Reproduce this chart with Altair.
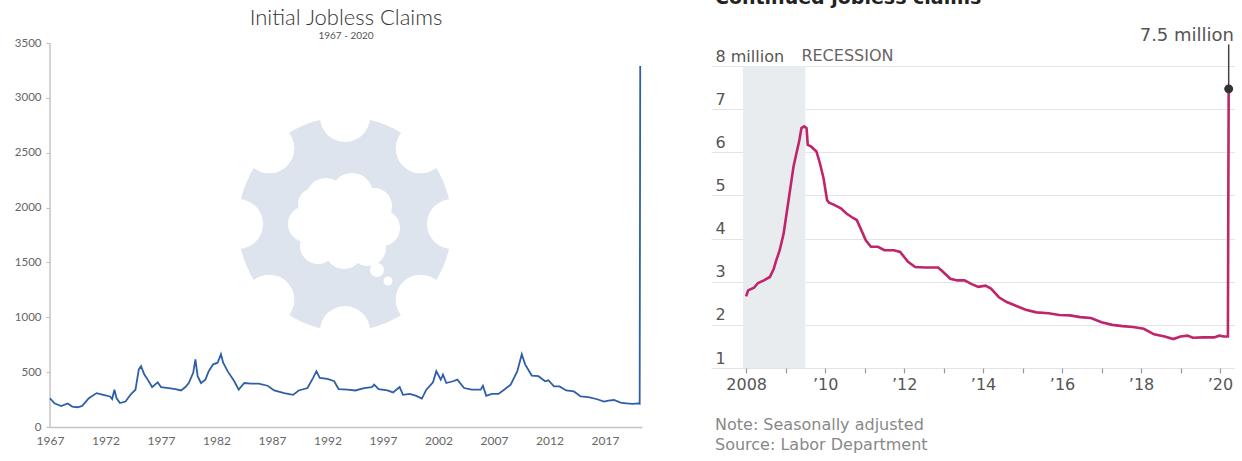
import math
import altair as alt
import pandas as pd

# ---- Initial jobless claims, thousands (1967 - 2020) ----
ic_year = [1967.0, 1967.4, 1968.0, 1968.6, 1969.0, 1969.5, 1969.9, 1970.5, 1971.2, 1971.8,
           1972.4, 1972.6, 1972.8, 1973.0, 1973.3, 1973.8, 1974.3, 1974.7, 1975.0, 1975.2,
           1975.5, 1975.8, 1976.2, 1976.7, 1977.0, 1977.7, 1978.3, 1978.8, 1979.2, 1979.5,
           1979.9, 1980.1, 1980.3, 1980.6, 1981.0, 1981.3, 1981.7, 1982.1, 1982.4, 1982.6,
           1983.0, 1983.6, 1984.0, 1984.5, 1985.1, 1985.8, 1986.6, 1987.2, 1988.1, 1988.9,
           1989.4, 1990.2, 1990.7, 1991.0, 1991.3, 1992.0, 1992.6, 1993.0, 1993.8, 1994.5,
           1995.3, 1996.0, 1996.2, 1996.6, 1997.4, 1997.9, 1998.5, 1998.8, 1999.4, 2000.0,
           2000.5, 2000.9, 2001.5, 2001.8, 2002.2, 2002.4, 2002.7, 2003.3, 2003.7, 2004.3,
           2005.0, 2005.8, 2006.0, 2006.3, 2006.8, 2007.4, 2008.0, 2008.5, 2009.1, 2009.5,
           2009.8, 2010.4, 2011.0, 2011.6, 2011.9, 2012.4, 2012.9, 2013.5, 2014.2, 2014.8,
           2015.5, 2016.3, 2016.9, 2017.3, 2017.8, 2018.4, 2018.9, 2019.5, 2020.0, 2020.12,
           2020.17]
ic_claims = [262, 216, 191, 214, 186, 180, 192, 262, 309, 293,
             278, 255, 340, 262, 218, 232, 300, 340, 525, 555,
             478, 432, 364, 407, 364, 355, 346, 333, 364, 401,
             494, 617, 463, 401, 432, 509, 571, 586, 664, 586,
             509, 417, 340, 401, 395, 395, 376, 333, 309, 293,
             333, 355, 448, 509, 448, 438, 417, 346, 340, 333,
             355, 364, 386, 346, 333, 315, 364, 293, 302, 284,
             259, 340, 407, 509, 432, 478, 401, 417, 432, 355,
             340, 340, 376, 284, 302, 302, 346, 386, 509, 664,
             571, 469, 463, 417, 426, 370, 370, 333, 324, 278,
             272, 253, 232, 241, 246, 222, 216, 210, 215, 212,
             3290]

# ---- Continued jobless claims, millions (2008 - 2020) ----
cc_year = [2008.0, 2008.05, 2008.2, 2008.3, 2008.45, 2008.6, 2008.7, 2008.75, 2008.85, 2008.95,
           2009.0, 2009.1, 2009.2, 2009.35, 2009.4, 2009.47, 2009.53, 2009.56, 2009.65, 2009.78,
           2009.87, 2009.96, 2010.05, 2010.1, 2010.23, 2010.4, 2010.54, 2010.67, 2010.8, 2010.9,
           2011.03, 2011.16, 2011.34, 2011.5, 2011.74, 2011.9, 2012.1, 2012.28, 2012.54, 2012.86,
           2012.95, 2013.17, 2013.35, 2013.53, 2013.7, 2013.88, 2014.06, 2014.2, 2014.4, 2014.6,
           2014.86, 2015.08, 2015.35, 2015.66, 2015.93, 2016.2, 2016.46, 2016.73, 2017.0, 2017.27,
           2017.53, 2017.8, 2018.07, 2018.33, 2018.6, 2018.82, 2019.0, 2019.18, 2019.31, 2019.58,
           2019.85, 2019.98, 2020.1, 2020.2, 2020.22]
cc_claims = [2.66, 2.80, 2.86, 2.97, 3.03, 3.11, 3.30, 3.46, 3.73, 4.12,
             4.43, 5.05, 5.67, 6.29, 6.56, 6.60, 6.56, 6.17, 6.13, 6.02,
             5.74, 5.40, 4.89, 4.83, 4.78, 4.70, 4.58, 4.50, 4.43, 4.23,
             3.96, 3.81, 3.81, 3.73, 3.73, 3.69, 3.46, 3.34, 3.33, 3.33,
             3.26, 3.07, 3.03, 3.03, 2.95, 2.88, 2.91, 2.84, 2.64, 2.53,
             2.43, 2.35, 2.29, 2.27, 2.23, 2.22, 2.18, 2.16, 2.06, 2.00,
             1.97, 1.95, 1.91, 1.78, 1.73, 1.67, 1.73, 1.75, 1.70, 1.71,
             1.71, 1.75, 1.73, 1.73, 7.47]

recession_start, recession_end = 2007.92, 2009.5

ic_xticks = list(range(1967, 2018, 5))
ic_yticks = list(range(0, 3501, 500))
cc_xticks = list(range(2008, 2021))
cc_yticks = list(range(1, 9))

LW, LH = 592, 427      # left plot area
RW, RH = 524, 368      # right plot area

LFONT = "Lato"
RFONT = "DejaVu Sans"

one = pd.DataFrame({"k": [0]})
ic = pd.DataFrame({"year": ic_year, "claims": ic_claims})
cc = pd.DataFrame({"year": cc_year, "claims": cc_claims})
peak = cc.tail(1).copy()
peak["label"] = peak["claims"].map(lambda v: f"{v:.1f} million")

# ------------------------------------------------------------------ left panel
x_ic = alt.X(
    "year:Q",
    scale=alt.Scale(domain=[1967, 2020.33], nice=False, zero=False),
    axis=alt.Axis(values=ic_xticks, format="d", title=None, grid=False,
                  domainColor="#c4c4c4", domainWidth=1.5, tickSize=0,
                  labelPadding=8, labelFont=LFONT, labelFontSize=12,
                  labelColor="#666666", labelFlush=False),
)
y_ic = alt.Y(
    "claims:Q",
    scale=alt.Scale(domain=[0, 3892], nice=False, zero=True),
    axis=alt.Axis(values=ic_yticks, format="d", title=None, grid=False, domain=False,
                  tickSize=4, tickColor="#bdbdbd", labelPadding=5,
                  labelFont=LFONT, labelFontSize=11.5, labelColor="#666666"),
)

# faint gear-and-cloud logo behind the series (symbol size = diameter squared)
GEAR = "#dde4ee"
gx, gy, gr = 295, 224, 107
logo = [(gx, gy, gr, GEAR)]
for k in range(8):
    a = math.radians(45 * k)
    logo.append((gx + gr * math.sin(a), gy - gr * math.cos(a), 25, "white"))
cloud = [(0, 0, 34), (-18, -22, 20), (8, -26, 21), (30, -14, 18), (38, 8, 18),
         (24, 28, 18), (0, 30, 19), (-26, 26, 18), (-38, 4, 18), (-30, -16, 16),
         (33, 50, 7), (44, 61, 4.5)]
for dx, dy, r in cloud:
    logo.append((gx - 1 + dx, gy - 4 + dy, r, "white"))

logo_layers = [
    alt.Chart(one).mark_circle(size=(2 * r) ** 2, color=c, opacity=1)
    .encode(x=alt.value(px), y=alt.value(py))
    for px, py, r, c in logo
]

y_axis_line = alt.Chart(one).mark_rule(color="#c4c4c4", strokeWidth=1.5).encode(
    x=alt.value(0), y=alt.datum(0), y2=alt.datum(3500))

ic_line = alt.Chart(ic).mark_line(color="#2f5fa8", strokeWidth=1.8).encode(x_ic, y_ic)

ic_title = alt.Chart(one).mark_text(
    text="Initial Jobless Claims", font=LFONT, fontSize=22, fontWeight=300,
    color="#333333", align="center", baseline="alphabetic",
).encode(x=alt.value(LW / 2), y=alt.value(25))
ic_sub = alt.Chart(one).mark_text(
    text="1967 - 2020", font=LFONT, fontSize=10, color="#555555",
    align="center", baseline="alphabetic",
).encode(x=alt.value(LW / 2), y=alt.value(39))

left = alt.layer(*logo_layers, y_axis_line, ic_line, ic_title, ic_sub).properties(
    width=LW, height=LH)

# ------------------------------------------------------------------ right panel
x_cc = alt.X(
    "year:Q",
    scale=alt.Scale(domain=[2007.11, 2020.38], nice=False, zero=False),
    axis=alt.Axis(values=cc_xticks, format="d", title=None, grid=False, domain=False,
                  tickSize=5, tickColor="#9a9a9a", tickWidth=1.2, labelPadding=3,
                  labelFont=RFONT, labelFontSize=16, labelColor="#555555",
                  labelFlush=False,
                  labelExpr="datum.value == 2008 ? '2008' : (datum.value % 2 == 1 ? '' : '\u2019' + slice(datum.label, 2))"),
)
y_cc = alt.Y(
    "claims:Q",
    scale=alt.Scale(domain=[1, 9.53], nice=False, zero=False),
    axis=alt.Axis(values=cc_yticks, title=None, domain=False, ticks=False, tickSize=0,
                  grid=True, gridColor="#e4e4e4", gridWidth=1,
                  labelAlign="left", labelBaseline="alphabetic", labelPadding=-4,
                  labelOffset=-5, labelFont=RFONT, labelFontSize=16,
                  labelColor="#555555",
                  labelExpr="datum.value == 8 ? '8 million' : datum.label"),
)

rec = pd.DataFrame({"start": [recession_start], "end": [recession_end]})
rec_band = alt.Chart(rec).mark_rect(color="#e9ecef").encode(
    x=alt.X("start:Q"), x2="end:Q", y=alt.datum(1), y2=alt.datum(8))
rec_label = alt.Chart(rec).mark_text(
    text="RECESSION", font=RFONT, fontSize=16, color="#666666",
    align="left", baseline="alphabetic", dx=-4, dy=-5,
).encode(x="end:Q", y=alt.datum(8))

cc_line = alt.Chart(cc).mark_line(color="#c0246b", strokeWidth=2.6).encode(x_cc, y_cc)

peak_rule = alt.Chart(peak).mark_rule(color="#444444", strokeWidth=1.5).encode(
    x="year:Q", y="claims:Q", y2=alt.datum(8.5))
peak_dot = alt.Chart(peak).mark_circle(size=80, color="#333333", opacity=1).encode(
    x="year:Q", y="claims:Q")
peak_text = alt.Chart(peak).mark_text(
    font=RFONT, fontSize=18, color="#555555", align="right", baseline="alphabetic",
).encode(x=alt.value(RW - 1), y=alt.datum(8.57), text="label:N")

cc_title = alt.Chart(one).mark_text(
    text="Continued jobless claims", font=RFONT, fontSize=19, fontWeight="bold",
    color="#222222", align="left", baseline="alphabetic", clip=True,
).encode(x=alt.value(4), y=alt.value(4))
note1 = alt.Chart(one).mark_text(
    text="Note: Seasonally adjusted", font=RFONT, fontSize=16, color="#888888",
    align="left", baseline="alphabetic",
).encode(x=alt.value(4), y=alt.value(430))
note2 = alt.Chart(one).mark_text(
    text="Source: Labor Department", font=RFONT, fontSize=16, color="#888888",
    align="left", baseline="alphabetic",
).encode(x=alt.value(4), y=alt.value(450))

right = alt.layer(rec_band, rec_label, cc_line, peak_rule, peak_dot, peak_text,
                  cc_title, note1, note2).properties(width=RW, height=RH)

chart = (
    alt.hconcat(left, right, spacing=67)
    .properties(padding={"left": 14, "top": 0, "right": 0, "bottom": 0},
                background="white")
    .configure_view(stroke=None)
)

chart.save("out.html", embed_options={"renderer": "svg", "actions": False})
